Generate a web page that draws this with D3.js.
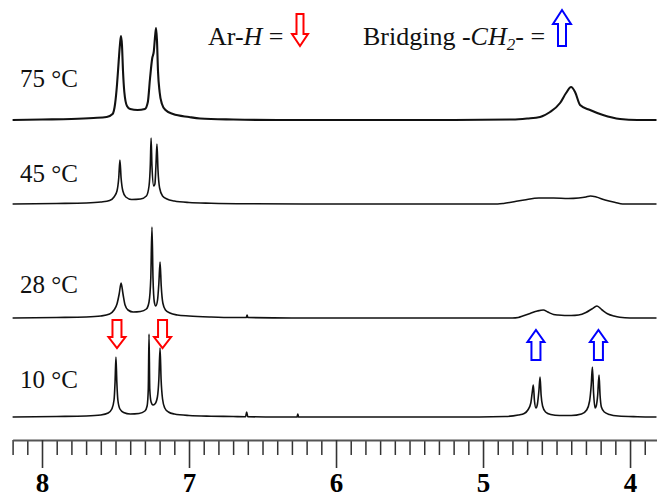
<!DOCTYPE html>
<html>
<head>
<meta charset="utf-8">
<script src="https://cdn.jsdelivr.net/npm/d3@7/dist/d3.min.js"></script>
<style>
  html, body { margin: 0; padding: 0; background: #fff; }
  svg { display: block; }
</style>
</head>
<body>
<svg id="chart" width="657" height="497"></svg>
<script>
// 1H NMR spectra (ppm, intensity) at four temperatures
const temps = ["75 °C", "45 °C", "28 °C", "10 °C"];

const spec75 = [
  [8.20,0],[8.00,0.5],[7.80,1],[7.65,2],[7.56,3],[7.52,6],[7.503,16],[7.490,35],[7.483,49],
  [7.470,75],[7.463,84],[7.456,75],[7.449,49],[7.440,28],[7.422,14],[7.40,11],[7.35,10],
  [7.30,11],[7.280,18],[7.265,42],[7.250,62],[7.240,68],[7.230,85],[7.224,92],[7.218,80],
  [7.211,49],[7.200,28],[7.184,16],[7.16,10],[7.109,6],[7.00,3],[6.925,1.5],[6.70,0.5],
  [6.40,0],[5.80,0],[5.20,0],[4.80,0.5],[4.70,1.5],[4.612,3],[4.544,8],[4.476,17],[4.435,27],
  [4.401,33],[4.374,28],[4.340,15],[4.272,10],[4.184,5],[4.068,1],[3.95,0],[3.82,0]
];

const spec45 = [
  [8.20,0],[7.90,0.5],[7.70,1],[7.60,2],[7.54,3.5],[7.51,7],[7.49,13],[7.478,26],[7.470,44],
  [7.462,26],[7.450,13],[7.43,7],[7.39,4.5],[7.33,5],[7.29,8],[7.272,18],[7.263,40],[7.258,66],
  [7.252,38],[7.240,18],[7.232,20],[7.225,38],[7.218,60],[7.211,34],[7.200,16],[7.18,8],
  [7.15,5],[7.10,3],[7.00,1.5],[6.85,0.8],[6.60,0.3],[6.00,0],[5.20,0],[4.90,0],[4.86,0.5],
  [4.80,2],[4.72,4],[4.62,6],[4.52,6],[4.42,5.5],[4.35,6],[4.30,7],[4.27,8],[4.23,7],
  [4.17,4],[4.10,1.5],[4.05,0],[3.82,0]
];

const spec28 = [
  [8.20,0],[7.90,0.5],[7.70,1],[7.60,2],[7.54,4],[7.51,8],[7.49,14],[7.475,24],[7.462,35],
  [7.449,24],[7.435,13],[7.415,8],[7.38,6],[7.33,6.5],[7.29,9],[7.272,16],[7.260,40],
  [7.252,91],[7.245,40],[7.236,16],[7.226,12],[7.214,18],[7.205,35],[7.197,56],[7.189,32],
  [7.178,15],[7.16,8],[7.13,5],[7.08,3],[7.00,2],[6.85,1],[6.70,0.5],[6.61,0.5],[6.605,3],
  [6.60,0.5],[6.30,0],[5.60,0],[5.00,0],[4.80,0],[4.76,0.5],[4.73,2],[4.68,4.5],[4.63,7],
  [4.59,8],[4.56,6],[4.52,3.5],[4.49,3],[4.40,2.5],[4.35,3],[4.30,5.5],[4.26,9],[4.225,12],
  [4.19,8],[4.15,4],[4.11,2],[4.07,0.7],[4.00,0],[3.82,0]
];

const spec10 = [
  [8.20,0],[7.90,0.5],[7.70,1],[7.60,2],[7.55,4],[7.525,8],[7.510,17],[7.503,35],[7.497,60],
  [7.491,35],[7.484,17],[7.470,8],[7.445,4.5],[7.40,3],[7.34,3.5],[7.30,6],[7.285,11],
  [7.277,28],[7.272,83],[7.267,28],[7.258,15],[7.245,12],[7.232,13],[7.215,20],[7.205,38],
  [7.197,69],[7.190,38],[7.180,18],[7.165,9],[7.14,5],[7.10,3],[7.00,1.5],[6.85,0.8],
  [6.70,0.5],[6.615,0.3],[6.608,5],[6.600,0.3],[6.40,0],[6.265,0],[6.26,3],[6.255,0],
  [5.80,0],[5.20,0],[4.85,0.5],[4.76,2],[4.72,3.5],[4.695,7],[4.675,14],[4.665,25],
  [4.658,32],[4.650,16],[4.640,9],[4.630,13],[4.620,26],[4.612,40],[4.605,22],[4.595,11],
  [4.575,5],[4.54,2.5],[4.48,1.5],[4.40,1.5],[4.33,3],[4.295,7],[4.275,16],[4.264,32],
  [4.256,50],[4.248,24],[4.238,9],[4.230,11],[4.220,22],[4.211,42],[4.204,22],[4.195,10],
  [4.175,5],[4.14,2.5],[4.08,1],[3.95,0.3],[3.82,0]
];

const spectra = [spec75, spec45, spec28, spec10];

// axis ticks (ppm)
const majorTicks = [8, 7, 6, 5, 4];
const minorTicks = d3.range(82, 38, -1).filter(v => v % 10 !== 0).map(v => v / 10);

// marker positions (ppm) for the assigned signals
const arylMarks = [7.49, 7.18];
const bridgeMarks = [4.64, 4.215];

const svg = d3.select("#chart");
const serif = "'Liberation Serif', 'Times New Roman', serif";

const x = d3.scaleLinear().domain([8.2, 3.8166]).range([12.6, 657]);
const h = d3.scaleLinear().domain([0, 100]).range([0, 100]);

const baselines = [120, 204, 318, 417];
const strokeW = [2.1, 1.6, 1.6, 1.6];
const labelY = [87, 182, 293, 388];

spectra.forEach((data, i) => {
  const line = d3.line()
    .x(d => x(d[0]))
    .y(d => baselines[i] - h(d[1]))
    .curve(d3.curveMonotoneX);
  svg.append("path")
    .datum(data)
    .attr("d", line)
    .attr("fill", "none")
    .attr("stroke", "#111")
    .attr("stroke-width", strokeW[i])
    .attr("stroke-linejoin", "round");
  svg.append("text")
    .attr("x", 20).attr("y", labelY[i])
    .attr("font-family", serif).attr("font-size", 25)
    .attr("fill", "#111")
    .text(temps[i]);
});

// block arrow outline; dir = 1 points down, -1 points up
function blockArrow(cx, top, bottom, shaftW, headW, headH, dir) {
  const s = shaftW / 2, hw = headW / 2;
  let pts;
  if (dir === 1) {
    const hb = bottom - headH;
    pts = [[cx - s, top], [cx + s, top], [cx + s, hb], [cx + hw, hb], [cx, bottom],
           [cx - hw, hb], [cx - s, hb]];
  } else {
    const ht = top + headH;
    pts = [[cx - s, bottom], [cx + s, bottom], [cx + s, ht], [cx + hw, ht], [cx, top],
           [cx - hw, ht], [cx - s, ht]];
  }
  return "M" + pts.map(p => p.join(",")).join("L") + "Z";
}

const arrowG = svg.append("g");
arylMarks.forEach(p => {
  arrowG.append("path")
    .attr("d", blockArrow(x(p), 320, 348, 9, 17, 11, 1))
    .attr("fill", "#fff").attr("stroke", "#f00").attr("stroke-width", 2);
});
bridgeMarks.forEach(p => {
  arrowG.append("path")
    .attr("d", blockArrow(x(p), 330, 360, 9, 17, 12, -1))
    .attr("fill", "#fff").attr("stroke", "#00f").attr("stroke-width", 2);
});

// legend line at the top
const lg = svg.append("g").attr("font-family", serif).attr("font-size", 26).attr("fill", "#111");
const t1 = lg.append("text").attr("x", 208).attr("y", 45);
t1.append("tspan").text("Ar-");
t1.append("tspan").attr("font-style", "italic").text("H");
t1.append("tspan").text(" =");
lg.append("path")
  .attr("d", blockArrow(300, 14, 46, 7, 16, 12, 1))
  .attr("fill", "#fff").attr("stroke", "#f00").attr("stroke-width", 2);

const t2 = lg.append("text").attr("x", 363).attr("y", 45);
t2.append("tspan").text("Bridging -");
t2.append("tspan").attr("font-style", "italic").text("CH");
t2.append("tspan").attr("font-style", "italic").attr("font-size", 17).attr("dy", 5).text("2");
t2.append("tspan").attr("dy", -5).text("- =");
lg.append("path")
  .attr("d", blockArrow(562, 10, 46, 8, 18, 14, -1))
  .attr("fill", "#fff").attr("stroke", "#00f").attr("stroke-width", 2);

// ppm axis
const axisY = 440;
const minorAxis = d3.axisBottom(x).tickValues(minorTicks).tickSize(15).tickSizeOuter(0).tickFormat("");
const majorAxis = d3.axisBottom(x).tickValues(majorTicks).tickSize(28).tickSizeOuter(0)
  .tickPadding(5).tickFormat(d3.format("d"));

const gMinor = svg.append("g").attr("transform", `translate(0,${axisY})`).call(minorAxis);
gMinor.select(".domain").remove();
gMinor.selectAll(".tick line").attr("stroke", "#333").attr("stroke-width", 1.5);

const gMajor = svg.append("g").attr("transform", `translate(0,${axisY})`).call(majorAxis);
gMajor.select(".domain").attr("stroke", "#555").attr("stroke-width", 2);
gMajor.selectAll(".tick line").attr("stroke", "#333").attr("stroke-width", 1.6);
gMajor.selectAll(".tick text")
  .attr("font-family", serif).attr("font-size", 27).attr("font-weight", "bold")
  .attr("fill", "#000");
</script>
</body>
</html>
